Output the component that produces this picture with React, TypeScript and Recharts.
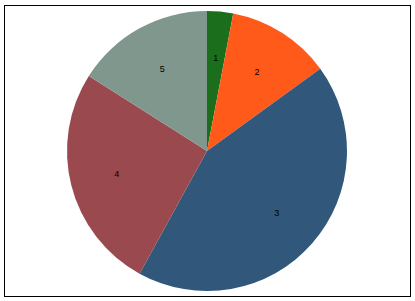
import { PieChart, Pie, Cell } from 'recharts';

/* ── Data ─────────────────────────────────────────────────────────────────── */

const LABELS = ['1', '2', '3', '4', '5'];
const VALUES = [3, 12, 43, 26, 16];
const COLORS = ['#1B6E1B', '#FF5A19', '#31587B', '#9A4A4F', '#7F978C'];

const data = LABELS.map((name, i) => ({ name, value: VALUES[i] }));

const RAD = Math.PI / 180;

/* ── Inside label ─────────────────────────────────────────────────────────── */

function SliceLabel(props: any) {
  const { cx, cy, midAngle, outerRadius, name } = props;
  const r = outerRadius * 0.665;
  const x = cx + r * Math.cos(-midAngle * RAD);
  const y = cy + r * Math.sin(-midAngle * RAD);
  return (
    <text
      x={x}
      y={y}
      fill="#000"
      fontSize={9}
      fontFamily="'Liberation Sans', Arial, sans-serif"
      textAnchor="middle"
      dominantBaseline="central"
    >
      {name}
    </text>
  );
}

/* ── Page ─────────────────────────────────────────────────────────────────── */

export default function App() {
  return (
    <div style={{ position: 'fixed', left: 0, top: 0, width: 415, height: 301, background: '#fff' }}>
      <div
        style={{
          position: 'absolute', left: 4, top: 5, width: 405, height: 290,
          border: '1px solid #000',
        }}
      />
      <div style={{ position: 'absolute', left: 0, top: 0 }}>
        <PieChart width={415} height={301} margin={{ top: 0, right: 0, bottom: 0, left: 0 }}>
          <Pie
            data={data}
            dataKey="value"
            nameKey="name"
            cx={207}
            cy={151}
            outerRadius={140}
            startAngle={90}
            endAngle={-270}
            stroke="none"
            label={SliceLabel}
            labelLine={false}
            isAnimationActive={false}
          >
            {data.map((_, i) => (
              <Cell key={i} fill={COLORS[i]} />
            ))}
          </Pie>
        </PieChart>
      </div>
    </div>
  );
}
